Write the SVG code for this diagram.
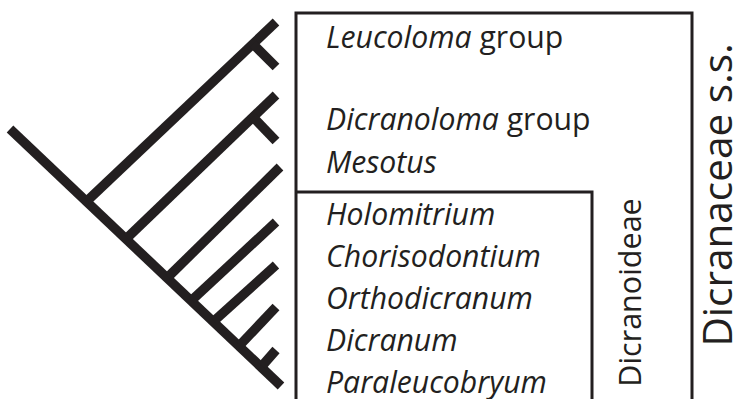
<svg xmlns="http://www.w3.org/2000/svg" width="736" height="399" viewBox="0 0 736 399">
<style>
.br{stroke:#231f20;stroke-width:9.5;fill:none;stroke-linecap:butt;stroke-linejoin:miter}
.box{stroke:#231f20;stroke-width:3;fill:none}
.t{font-family:"Open Sans","Noto Sans",sans-serif;font-size:30.2px;fill:#231f20}
.i{font-style:italic}
.v1{font-family:"Open Sans","Noto Sans",sans-serif;font-size:30.5px;fill:#231f20}
.v2{font-family:"Open Sans","Noto Sans",sans-serif;font-size:40.5px;fill:#231f20}
</style>
<rect width="736" height="399" fill="#ffffff"/>
<g id="connectors">
<line class="br" x1="10" y1="129" x2="281" y2="386"/>
<line class="br" x1="87" y1="201" x2="276" y2="22"/>
<line class="br" x1="253" y1="44" x2="276" y2="67"/>
<line class="br" x1="127" y1="238" x2="276" y2="95"/>
<line class="br" x1="253" y1="117" x2="276" y2="141"/>
<line class="br" x1="168" y1="277" x2="280" y2="167"/>
<line class="br" x1="192" y1="300" x2="276" y2="222"/>
<line class="br" x1="214" y1="321" x2="276" y2="265"/>
<line class="br" x1="240" y1="345" x2="276" y2="307"/>
<line class="br" x1="262" y1="366" x2="276" y2="350"/>
</g>
<g id="dicranaceae">
<path class="box" d="M296,420 V13 H692 V420"/>
<text class="v2" transform="translate(732,195) rotate(-90)" text-anchor="middle">Dicranaceae s.s.</text>
</g>
<g id="dicranoideae">
<path class="box" d="M296,192 H592 V420"/>
<text class="v1" transform="translate(641,292.5) rotate(-90)" text-anchor="middle">Dicranoideae</text>
</g>
<g id="leucoloma"><text class="t" x="326" y="48"><tspan class="i">Leucoloma</tspan> group</text></g>
<g id="dicranoloma"><text class="t" x="326" y="130"><tspan class="i">Dicranoloma</tspan> group</text></g>
<g id="mesotus"><text class="t i" x="326" y="173">Mesotus</text></g>
<g id="holomitrium"><text class="t i" x="326" y="225">Holomitrium</text></g>
<g id="chorisodontium"><text class="t i" x="326" y="267">Chorisodontium</text></g>
<g id="orthodicranum"><text class="t i" x="326" y="309">Orthodicranum</text></g>
<g id="dicranum"><text class="t i" x="326" y="351">Dicranum</text></g>
<g id="paraleucobryum"><text class="t i" x="326" y="393">Paraleucobryum</text></g>
</svg>
